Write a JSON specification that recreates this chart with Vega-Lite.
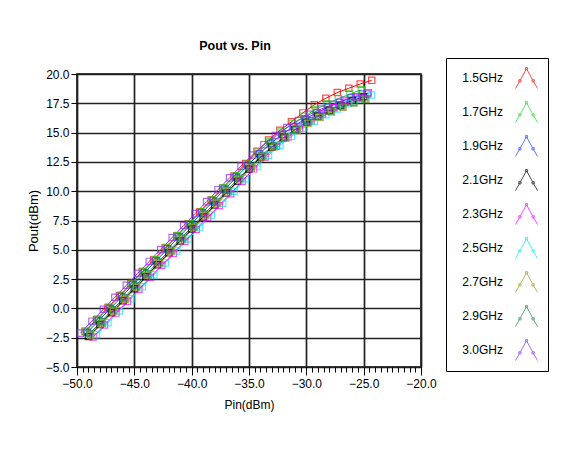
{
"$schema": "https://vega.github.io/schema/vega-lite/v6.json",
"width": 344, "height": 293,
"autosize": {"type": "none"},
"padding": {"left": 77, "top": 74, "right": 148, "bottom": 84},
"background": "white",
"title": {"text": "Pout vs. Pin", "font": "Liberation Sans", "fontSize": 12.5, "fontWeight": "bold", "color": "black", "offset": 5, "dx": -14},
"config": {
  "font": "Liberation Sans",
  "view": {"stroke": "black", "strokeWidth": 1.5},
  "axis": {"labelFont": "Liberation Sans", "titleFont": "Liberation Sans", "labelFontSize": 12, "labelColor": "black", "tickColor": "black", "gridColor": "#222222", "gridWidth": 1.7, "gridOpacity": 1, "titleFontWeight": "normal", "titleColor": "black", "titleFontSize": 12, "domain": false, "labelFlush": false, "labelOverlap": false}
},
"data": {"values": [
{"f":"1.5GHz","x":-49.3,"y":-1.96},{"f":"1.5GHz","x":-48.3,"y":-0.94},{"f":"1.5GHz","x":-47.3,"y":0.08},{"f":"1.5GHz","x":-46.3,"y":1.10},{"f":"1.5GHz","x":-45.3,"y":2.12},{"f":"1.5GHz","x":-44.3,"y":3.14},{"f":"1.5GHz","x":-43.3,"y":4.16},{"f":"1.5GHz","x":-42.3,"y":5.18},{"f":"1.5GHz","x":-41.3,"y":6.20},{"f":"1.5GHz","x":-40.3,"y":7.22},{"f":"1.5GHz","x":-39.3,"y":8.24},{"f":"1.5GHz","x":-38.3,"y":9.26},{"f":"1.5GHz","x":-37.3,"y":10.28},{"f":"1.5GHz","x":-36.3,"y":11.30},{"f":"1.5GHz","x":-35.3,"y":12.36},{"f":"1.5GHz","x":-34.3,"y":13.40},{"f":"1.5GHz","x":-33.3,"y":14.36},{"f":"1.5GHz","x":-32.3,"y":15.20},{"f":"1.5GHz","x":-31.3,"y":15.92},{"f":"1.5GHz","x":-30.3,"y":16.68},{"f":"1.5GHz","x":-29.3,"y":17.38},{"f":"1.5GHz","x":-28.3,"y":17.93},{"f":"1.5GHz","x":-27.3,"y":18.42},{"f":"1.5GHz","x":-26.3,"y":18.78},{"f":"1.5GHz","x":-25.3,"y":19.15},{"f":"1.5GHz","x":-24.3,"y":19.46},
{"f":"1.7GHz","x":-49.2,"y":-1.95},{"f":"1.7GHz","x":-48.2,"y":-0.93},{"f":"1.7GHz","x":-47.2,"y":0.09},{"f":"1.7GHz","x":-46.2,"y":1.11},{"f":"1.7GHz","x":-45.2,"y":2.13},{"f":"1.7GHz","x":-44.2,"y":3.15},{"f":"1.7GHz","x":-43.2,"y":4.17},{"f":"1.7GHz","x":-42.2,"y":5.19},{"f":"1.7GHz","x":-41.2,"y":6.21},{"f":"1.7GHz","x":-40.2,"y":7.23},{"f":"1.7GHz","x":-39.2,"y":8.25},{"f":"1.7GHz","x":-38.2,"y":9.27},{"f":"1.7GHz","x":-37.2,"y":10.29},{"f":"1.7GHz","x":-36.2,"y":11.30},{"f":"1.7GHz","x":-35.2,"y":12.33},{"f":"1.7GHz","x":-34.2,"y":13.33},{"f":"1.7GHz","x":-33.2,"y":14.24},{"f":"1.7GHz","x":-32.2,"y":15.04},{"f":"1.7GHz","x":-31.2,"y":15.75},{"f":"1.7GHz","x":-30.2,"y":16.40},{"f":"1.7GHz","x":-29.2,"y":16.96},{"f":"1.7GHz","x":-28.2,"y":17.45},{"f":"1.7GHz","x":-27.2,"y":17.90},{"f":"1.7GHz","x":-26.2,"y":18.30},{"f":"1.7GHz","x":-25.2,"y":18.65},
{"f":"1.9GHz","x":-49.1,"y":-2.05},{"f":"1.9GHz","x":-48.1,"y":-1.03},{"f":"1.9GHz","x":-47.1,"y":-0.01},{"f":"1.9GHz","x":-46.1,"y":1.01},{"f":"1.9GHz","x":-45.1,"y":2.03},{"f":"1.9GHz","x":-44.1,"y":3.05},{"f":"1.9GHz","x":-43.1,"y":4.07},{"f":"1.9GHz","x":-42.1,"y":5.09},{"f":"1.9GHz","x":-41.1,"y":6.11},{"f":"1.9GHz","x":-40.1,"y":7.13},{"f":"1.9GHz","x":-39.1,"y":8.15},{"f":"1.9GHz","x":-38.1,"y":9.17},{"f":"1.9GHz","x":-37.1,"y":10.19},{"f":"1.9GHz","x":-36.1,"y":11.20},{"f":"1.9GHz","x":-35.1,"y":12.22},{"f":"1.9GHz","x":-34.1,"y":13.20},{"f":"1.9GHz","x":-33.1,"y":14.08},{"f":"1.9GHz","x":-32.1,"y":14.86},{"f":"1.9GHz","x":-31.1,"y":15.54},{"f":"1.9GHz","x":-30.1,"y":16.16},{"f":"1.9GHz","x":-29.1,"y":16.69},{"f":"1.9GHz","x":-28.1,"y":17.17},{"f":"1.9GHz","x":-27.1,"y":17.59},{"f":"1.9GHz","x":-26.1,"y":17.97},{"f":"1.9GHz","x":-25.1,"y":18.29},
{"f":"2.1GHz","x":-49,"y":-2.40},{"f":"2.1GHz","x":-48,"y":-1.38},{"f":"2.1GHz","x":-47,"y":-0.36},{"f":"2.1GHz","x":-46,"y":0.66},{"f":"2.1GHz","x":-45,"y":1.68},{"f":"2.1GHz","x":-44,"y":2.70},{"f":"2.1GHz","x":-43,"y":3.72},{"f":"2.1GHz","x":-42,"y":4.74},{"f":"2.1GHz","x":-41,"y":5.76},{"f":"2.1GHz","x":-40,"y":6.78},{"f":"2.1GHz","x":-39,"y":7.80},{"f":"2.1GHz","x":-38,"y":8.82},{"f":"2.1GHz","x":-37,"y":9.84},{"f":"2.1GHz","x":-36,"y":10.85},{"f":"2.1GHz","x":-35,"y":11.89},{"f":"2.1GHz","x":-34,"y":12.88},{"f":"2.1GHz","x":-33,"y":13.76},{"f":"2.1GHz","x":-32,"y":14.55},{"f":"2.1GHz","x":-31,"y":15.24},{"f":"2.1GHz","x":-30,"y":15.88},{"f":"2.1GHz","x":-29,"y":16.41},{"f":"2.1GHz","x":-28,"y":16.90},{"f":"2.1GHz","x":-27,"y":17.34},{"f":"2.1GHz","x":-26,"y":17.73},{"f":"2.1GHz","x":-25,"y":18.06},
{"f":"2.3GHz","x":-48.6,"y":-2.44},{"f":"2.3GHz","x":-47.6,"y":-1.42},{"f":"2.3GHz","x":-46.6,"y":-0.40},{"f":"2.3GHz","x":-45.6,"y":0.62},{"f":"2.3GHz","x":-44.6,"y":1.64},{"f":"2.3GHz","x":-43.6,"y":2.66},{"f":"2.3GHz","x":-42.6,"y":3.68},{"f":"2.3GHz","x":-41.6,"y":4.70},{"f":"2.3GHz","x":-40.6,"y":5.72},{"f":"2.3GHz","x":-39.6,"y":6.74},{"f":"2.3GHz","x":-38.6,"y":7.76},{"f":"2.3GHz","x":-37.6,"y":8.78},{"f":"2.3GHz","x":-36.6,"y":9.79},{"f":"2.3GHz","x":-35.6,"y":10.84},{"f":"2.3GHz","x":-34.6,"y":11.91},{"f":"2.3GHz","x":-33.6,"y":12.92},{"f":"2.3GHz","x":-32.6,"y":13.83},{"f":"2.3GHz","x":-31.6,"y":14.63},{"f":"2.3GHz","x":-30.6,"y":15.36},{"f":"2.3GHz","x":-29.6,"y":16.01},{"f":"2.3GHz","x":-28.6,"y":16.59},{"f":"2.3GHz","x":-27.6,"y":17.11},{"f":"2.3GHz","x":-26.6,"y":17.59},{"f":"2.3GHz","x":-25.6,"y":18.02},{"f":"2.3GHz","x":-24.6,"y":18.39},
{"f":"2.5GHz","x":-48.3,"y":-2.24},{"f":"2.5GHz","x":-47.3,"y":-1.22},{"f":"2.5GHz","x":-46.3,"y":-0.20},{"f":"2.5GHz","x":-45.3,"y":0.82},{"f":"2.5GHz","x":-44.3,"y":1.84},{"f":"2.5GHz","x":-43.3,"y":2.86},{"f":"2.5GHz","x":-42.3,"y":3.88},{"f":"2.5GHz","x":-41.3,"y":4.90},{"f":"2.5GHz","x":-40.3,"y":5.92},{"f":"2.5GHz","x":-39.3,"y":6.94},{"f":"2.5GHz","x":-38.3,"y":7.96},{"f":"2.5GHz","x":-37.3,"y":8.98},{"f":"2.5GHz","x":-36.3,"y":10.00},{"f":"2.5GHz","x":-35.3,"y":11.06},{"f":"2.5GHz","x":-34.3,"y":12.10},{"f":"2.5GHz","x":-33.3,"y":13.06},{"f":"2.5GHz","x":-32.3,"y":13.92},{"f":"2.5GHz","x":-31.3,"y":14.68},{"f":"2.5GHz","x":-30.3,"y":15.37},{"f":"2.5GHz","x":-29.3,"y":15.98},{"f":"2.5GHz","x":-28.3,"y":16.53},{"f":"2.5GHz","x":-27.3,"y":17.02},{"f":"2.5GHz","x":-26.3,"y":17.47},{"f":"2.5GHz","x":-25.3,"y":17.86},{"f":"2.5GHz","x":-24.3,"y":18.21},
{"f":"2.7GHz","x":-48.8,"y":-2.30},{"f":"2.7GHz","x":-47.8,"y":-1.28},{"f":"2.7GHz","x":-46.8,"y":-0.26},{"f":"2.7GHz","x":-45.8,"y":0.76},{"f":"2.7GHz","x":-44.8,"y":1.78},{"f":"2.7GHz","x":-43.8,"y":2.80},{"f":"2.7GHz","x":-42.8,"y":3.82},{"f":"2.7GHz","x":-41.8,"y":4.84},{"f":"2.7GHz","x":-40.8,"y":5.86},{"f":"2.7GHz","x":-39.8,"y":6.88},{"f":"2.7GHz","x":-38.8,"y":7.90},{"f":"2.7GHz","x":-37.8,"y":8.92},{"f":"2.7GHz","x":-36.8,"y":9.94},{"f":"2.7GHz","x":-35.8,"y":10.95},{"f":"2.7GHz","x":-34.8,"y":11.97},{"f":"2.7GHz","x":-33.8,"y":12.92},{"f":"2.7GHz","x":-32.8,"y":13.77},{"f":"2.7GHz","x":-31.8,"y":14.52},{"f":"2.7GHz","x":-30.8,"y":15.18},{"f":"2.7GHz","x":-29.8,"y":15.78},{"f":"2.7GHz","x":-28.8,"y":16.29},{"f":"2.7GHz","x":-27.8,"y":16.75},{"f":"2.7GHz","x":-26.8,"y":17.16},{"f":"2.7GHz","x":-25.8,"y":17.52},{"f":"2.7GHz","x":-24.8,"y":17.83},
{"f":"2.9GHz","x":-48.9,"y":-2.15},{"f":"2.9GHz","x":-47.9,"y":-1.13},{"f":"2.9GHz","x":-46.9,"y":-0.11},{"f":"2.9GHz","x":-45.9,"y":0.91},{"f":"2.9GHz","x":-44.9,"y":1.93},{"f":"2.9GHz","x":-43.9,"y":2.95},{"f":"2.9GHz","x":-42.9,"y":3.97},{"f":"2.9GHz","x":-41.9,"y":4.99},{"f":"2.9GHz","x":-40.9,"y":6.01},{"f":"2.9GHz","x":-39.9,"y":7.03},{"f":"2.9GHz","x":-38.9,"y":8.05},{"f":"2.9GHz","x":-37.9,"y":9.07},{"f":"2.9GHz","x":-36.9,"y":10.09},{"f":"2.9GHz","x":-35.9,"y":11.10},{"f":"2.9GHz","x":-34.9,"y":12.10},{"f":"2.9GHz","x":-33.9,"y":13.04},{"f":"2.9GHz","x":-32.9,"y":13.89},{"f":"2.9GHz","x":-31.9,"y":14.63},{"f":"2.9GHz","x":-30.9,"y":15.28},{"f":"2.9GHz","x":-29.9,"y":15.88},{"f":"2.9GHz","x":-28.9,"y":16.38},{"f":"2.9GHz","x":-27.9,"y":16.83},{"f":"2.9GHz","x":-26.9,"y":17.23},{"f":"2.9GHz","x":-25.9,"y":17.58},{"f":"2.9GHz","x":-24.9,"y":17.88},
{"f":"3.0GHz","x":-49.7,"y":-2.11},{"f":"3.0GHz","x":-48.7,"y":-1.09},{"f":"3.0GHz","x":-47.7,"y":-0.07},{"f":"3.0GHz","x":-46.7,"y":0.95},{"f":"3.0GHz","x":-45.7,"y":1.97},{"f":"3.0GHz","x":-44.7,"y":2.99},{"f":"3.0GHz","x":-43.7,"y":4.01},{"f":"3.0GHz","x":-42.7,"y":5.03},{"f":"3.0GHz","x":-41.7,"y":6.05},{"f":"3.0GHz","x":-40.7,"y":7.07},{"f":"3.0GHz","x":-39.7,"y":8.09},{"f":"3.0GHz","x":-38.7,"y":9.11},{"f":"3.0GHz","x":-37.7,"y":10.13},{"f":"3.0GHz","x":-36.7,"y":11.14},{"f":"3.0GHz","x":-35.7,"y":12.14},{"f":"3.0GHz","x":-34.7,"y":13.09},{"f":"3.0GHz","x":-33.7,"y":13.97},{"f":"3.0GHz","x":-32.7,"y":14.75},{"f":"3.0GHz","x":-31.7,"y":15.43},{"f":"3.0GHz","x":-30.7,"y":16.03},{"f":"3.0GHz","x":-29.7,"y":16.56},{"f":"3.0GHz","x":-28.7,"y":17.01},{"f":"3.0GHz","x":-27.7,"y":17.41},{"f":"3.0GHz","x":-26.7,"y":17.76},{"f":"3.0GHz","x":-25.7,"y":18.05},{"f":"3.0GHz","x":-24.7,"y":18.30}
]},
"layer": [
  {
    "mark": {"type": "line", "strokeWidth": 1},
    "encoding": {
      "x": {"field": "x", "type": "quantitative", "scale": {"domain": [-50, -20], "nice": false, "zero": false},
            "axis": {"values": [-50, -45, -40, -35, -30, -25, -20], "format": ".1f", "title": "Pin(dBm)", "grid": true, "tickSize": 8, "labelPadding": 3, "titlePadding": 10}},
      "y": {"field": "y", "type": "quantitative", "scale": {"domain": [-5, 20], "nice": false, "zero": false},
            "axis": {"values": [-5, -2.5, 0, 2.5, 5, 7.5, 10, 12.5, 15, 17.5, 20], "format": ".1f", "title": "Pout(dBm)", "grid": true, "tickSize": 6, "labelPadding": 2, "titlePadding": 5, "titleFontSize": 13}},
      "color": {"field": "f", "type": "nominal",
        "scale": {"domain": ["1.5GHz", "1.7GHz", "1.9GHz", "2.1GHz", "2.3GHz", "2.5GHz", "2.7GHz", "2.9GHz", "3.0GHz"],
                  "range": ["#ff0000", "#1edc1e", "#2040ff", "#000000", "#ff00ff", "#00e8ff", "#9e9a1a", "#1e8a46", "#8a2ef0"]},
        "legend": {"orient": "none", "legendX": 369, "legendY": -16, "title": null,
          "symbolType": "M-1,1L-0.6,0.3L0,-0.8L0.6,0.3L1,1M-0.7,0.2h0.2v0.2h-0.2zM-0.1,-0.9h0.2v0.2h-0.2zM0.5,0.2h0.2v0.2h-0.2z",
          "symbolSize": 484, "symbolStrokeWidth": 1, "symbolFillColor": "transparent", "symbolOffset": 61,
          "labelAlign": "right", "labelOffset": -35, "labelFontSize": 12, "labelFont": "Liberation Sans", "labelColor": "black",
          "rowPadding": 8, "padding": 8, "strokeColor": "black", "fillColor": "white"}}
    }
  },
  {
    "mark": {"type": "point", "shape": "square", "filled": false, "size": 40, "strokeWidth": 1.2},
    "encoding": {
      "x": {"field": "x", "type": "quantitative", "scale": {"domain": [-50, -20], "nice": false, "zero": false},
            "axis": {"orient": "bottom", "values": [-50,-49.5,-49,-48.5,-48,-47.5,-47,-46.5,-46,-45.5,-45,-44.5,-44,-43.5,-43,-42.5,-42,-41.5,-41,-40.5,-40,-39.5,-39,-38.5,-38,-37.5,-37,-36.5,-36,-35.5,-35,-34.5,-34,-33.5,-33,-32.5,-32,-31.5,-31,-30.5,-30,-29.5,-29,-28.5,-28,-27.5,-27,-26.5,-26,-25.5,-25,-24.5,-24,-23.5,-23,-22.5,-22,-21.5,-21,-20.5,-20],
                     "labels": false, "grid": false, "domain": false, "tickSize": 5, "title": null}},
      "y": {"field": "y", "type": "quantitative", "scale": {"domain": [-5, 20], "nice": false, "zero": false},
            "axis": {"values": [-5, -2.5, 0, 2.5, 5, 7.5, 10, 12.5, 15, 17.5, 20], "format": ".1f", "title": "Pout(dBm)", "grid": true, "tickSize": 6, "labelPadding": 2, "titlePadding": 5, "titleFontSize": 13}},
      "color": {"field": "f", "type": "nominal"}
    }
  }
],
"resolve": {"axis": {"x": "independent"}}
}
